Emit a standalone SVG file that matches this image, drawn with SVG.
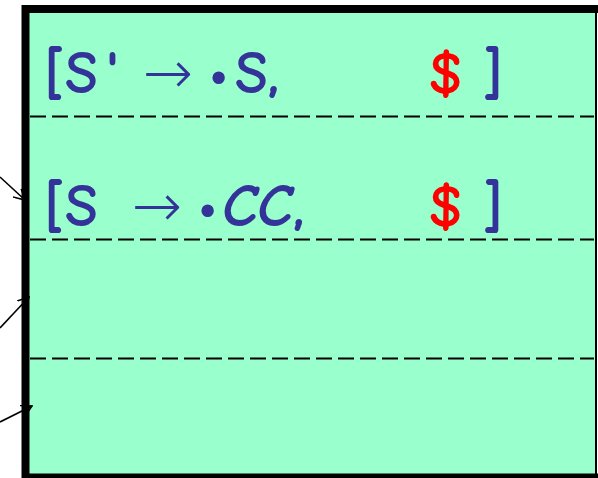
<svg xmlns="http://www.w3.org/2000/svg" width="598" height="478" viewBox="0 0 598 478">
<defs>
<style>
.t{font-family:"Comic Neue","DejaVu Sans","Liberation Sans",sans-serif;font-size:60px;font-weight:bold;fill:#333399}
.a{font-family:"DejaVu Sans",sans-serif;font-weight:200;font-size:60px}
.r{fill:#FF0000}
.d{stroke:#000;stroke-width:2;stroke-dasharray:16 6;fill:none}
.c{stroke:#000;stroke-width:1.6;fill:none}
</style>
<marker id="ah" viewBox="0 0 12 12" refX="11" refY="6" markerWidth="12" markerHeight="12" markerUnits="userSpaceOnUse" orient="auto">
<path d="M0,0 L11,6 L0,12" fill="none" stroke="#000" stroke-width="1.6"/>
</marker>
</defs>
<g id="box">
<rect x="26" y="9" width="571" height="468" fill="#99FFCC"/>
<line x1="25.5" y1="5" x2="25.5" y2="478" stroke="#000" stroke-width="8"/>
<line x1="22" y1="9" x2="598" y2="9" stroke="#000" stroke-width="8"/>
<line x1="22" y1="476" x2="598" y2="476" stroke="#000" stroke-width="5"/>
<line x1="596" y1="9" x2="596" y2="478" stroke="#000" stroke-width="2"/>
<line class="d" x1="30" y1="116.5" x2="594" y2="116.5"/>
<line class="d" x1="30" y1="239.5" x2="594" y2="239.5"/>
<line class="d" x1="30" y1="358.5" x2="594" y2="358.5"/>
</g>
<g id="item1">
<text class="t" y="93"><tspan x="44">[</tspan><tspan x="65">S</tspan><tspan x="106">'</tspan><tspan class="a" x="143">→</tspan><tspan x="209">•</tspan><tspan x="235">S,</tspan><tspan class="r" x="428">$</tspan><tspan x="483">]</tspan></text>
</g>
<g id="item2">
<text class="t" y="226"><tspan x="44">[</tspan><tspan x="65">S</tspan><tspan class="a" x="132">→</tspan><tspan x="198">•</tspan><tspan x="222" font-style="italic">CC</tspan><tspan x="293">,</tspan><tspan class="r" x="428">$</tspan><tspan x="483">]</tspan></text>
</g>
<g id="connectors">
<line class="c" x1="0" y1="177" x2="25" y2="200" marker-end="url(#ah)"/>
<line class="c" x1="0" y1="328" x2="29" y2="297" marker-end="url(#ah)"/>
<line class="c" x1="0" y1="422" x2="32" y2="406" marker-end="url(#ah)"/>
</g>
</svg>
